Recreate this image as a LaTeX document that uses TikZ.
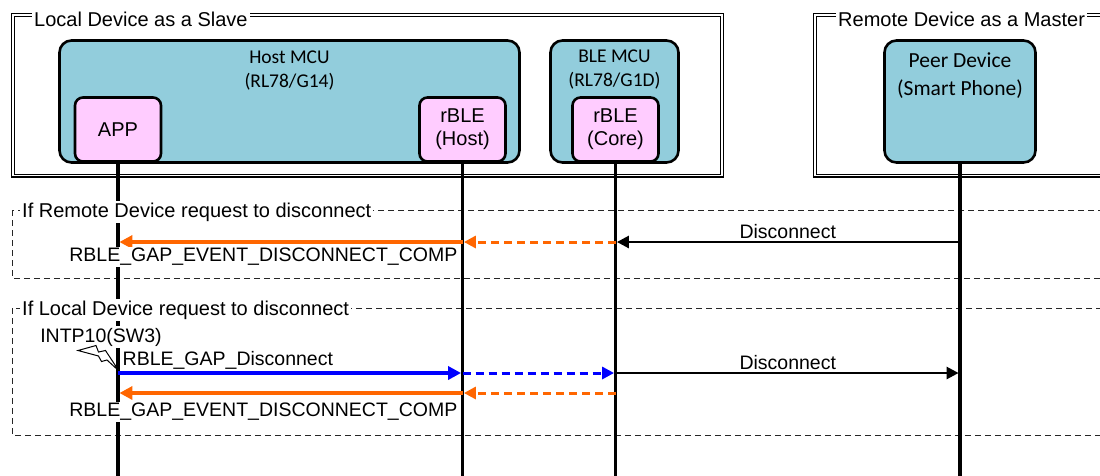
\documentclass[tikz,border=0pt]{standalone}
\usepackage{fontspec}
\setmainfont{Liberation Sans}
\newfontfamily\calibri{Carlito}
\usetikzlibrary{positioning}
\usetikzlibrary{arrows.meta}
\definecolor{mcublue}{RGB}{146,205,220}
\definecolor{swpink}{RGB}{255,204,255}
\definecolor{evorange}{RGB}{255,102,0}
\definecolor{cmdblue}{RGB}{0,0,255}
\newcommand{\msgfont}{\fontsize{19.5}{23}\selectfont}
\newcommand{\titlefont}{\fontsize{20}{23}\selectfont}
\newcommand{\swfont}{\fontsize{20}{23}\selectfont}
\newcommand{\mcufont}{\calibri\fontsize{19.5}{24}\selectfont}
\newcommand{\peerfont}{\calibri\fontsize{21.5}{28}\selectfont}
\tikzset{
  frame/.style={draw, double, double distance=1.8pt, line width=1.1pt},
  framelabel/.style={fill=white, inner sep=2pt, anchor=west, font=\titlefont},
  group/.style={draw, dash pattern=on 6pt off 4pt, line width=1pt, black!85},
  grouplabel/.style={fill=white, inner sep=2pt, anchor=west, font=\titlefont},
  mcu/.style={draw, line width=2.6pt, fill=mcublue, rounded corners=12pt},
  mcutext/.style={align=center, font=\mcufont, inner sep=0pt},
  sw/.style={draw, line width=2.6pt, fill=swpink, rounded corners=8pt, align=center,
    font=\swfont, minimum width=86pt, minimum height=64pt, inner sep=0pt},
  lifeline/.style={line width=3.2pt},
  msg/.style={fill=white, inner sep=1.5pt, font=\msgfont},
  air/.style={line width=2.6pt, -{Triangle[length=12pt,width=12pt]}, shorten >=1.4pt},
  evsolid/.style={line width=4pt, evorange, -{Triangle[length=13pt,width=13pt]}, shorten >=1.4pt},
  evdash/.style={line width=3pt, evorange, dash pattern=on 8pt off 5pt,
    -{Triangle[length=12pt,width=12pt]}, shorten >=1.4pt},
  callsolid/.style={line width=4pt, cmdblue, -{Triangle[length=13pt,width=13pt]}, shorten >=1.4pt},
  calldash/.style={line width=3pt, cmdblue, dash pattern=on 8pt off 5pt,
    -{Triangle[length=12pt,width=12pt]}, shorten >=1.4pt},
  bolt/.style={draw, fill=white, line width=1pt, line join=miter}
}

\begin{document}
\begin{tikzpicture}[x=1pt, y=-1pt]
  \useasboundingbox (0,0) rectangle (1100,475);

  \draw[group] (12,210) rectangle (1120,278);
  \draw[group] (12,308) rectangle (1120,435);

  \draw[frame] (13,15) rectangle (722,175.5);
  \draw[frame] (815,15) rectangle (1120,175.5);
  \node[framelabel] (localtitle) at (32,19) {Local Device as a Slave};
  \node[framelabel] (remotetitle) at (836,19) {Remote Device\ as a Master};

  \node[mcu, minimum width=460pt, minimum height=122pt] (hostmcu) at (289.5,101.5) {};
  \node[mcutext] (hostname) at (289.5,71) {Host MCU\\(RL78/G14)};
  \node[mcu, minimum width=128pt, minimum height=122pt] (blemcu) at (614.5,101.5) {};
  \node[mcutext] (blename) at (614.5,70) {BLE MCU\\(RL78/G1D)};
  \node[mcu, minimum width=151pt, minimum height=122pt] (peer) at (960,101.5) {};
  \node[mcutext, font=\peerfont] (peername) at (960,76) {Peer Device\\(Smart Phone)};

  \node[sw] (app) at (118,129.5) {APP};
  \node[sw] (rblehost) at (462.5,129.5) {rBLE\\(Host)};
  \node[sw] (rblecore) at (615.5,129.5) {rBLE\\(Core)};

  \coordinate (bottom) at (0,476);
  \coordinate (remrow) at (0,242);
  \coordinate (callrow) at (0,373);
  \coordinate (comprow) at (0,393);

  \draw[lifeline] (app.south) -- (app.south |- bottom);
  \draw[lifeline] (rblehost.south) -- (rblehost.south |- bottom);
  \draw[lifeline] (rblecore.south) -- (rblecore.south |- bottom);
  \draw[lifeline] (peer.south) -- (peer.south |- bottom);

  \node[grouplabel] (remgroup) at (20,212) {If Remote Device\ request to disconnect};
  \node[grouplabel] (locgroup) at (20,310) {If Local Device\ request to disconnect};

  \draw[air] (peer |- remrow) -- node[msg, above=1pt] (remdisc) {Disconnect} (rblecore |- remrow);
  \draw[evdash] (rblecore |- remrow) -- (rblehost |- remrow);
  \draw[evsolid] (rblehost |- remrow) -- (app |- remrow);
  \node[msg, anchor=east] (remcomp) at (459,257) {RBLE\_GAP\_EVENT\_DISCONNECT\_COMP};

  \node[msg] (intp) at (101,337) {INTP10(SW3)};
  \draw[bolt] (78,350.5) -- (96,345.5) -- (98.5,352) -- (105.5,350.5) -- (119,371)
    -- (107,360) -- (101.5,361.5) -- (98.5,356) -- cycle;
  \node[msg, anchor=west, fill=none] (callname) at (121,360) {RBLE\_GAP\_Disconnect};
  \draw[callsolid] (app |- callrow) -- (rblehost |- callrow);
  \draw[calldash] (rblehost |- callrow) -- (rblecore |- callrow);
  \draw[air] (rblecore |- callrow) -- node[msg, above=1pt] (locdisc) {Disconnect} (peer |- callrow);

  \draw[evdash] (rblecore |- comprow) -- (rblehost |- comprow);
  \draw[evsolid] (rblehost |- comprow) -- (app |- comprow);
  \node[msg, anchor=east] (loccomp) at (459,412) {RBLE\_GAP\_EVENT\_DISCONNECT\_COMP};
\end{tikzpicture}
\end{document}
